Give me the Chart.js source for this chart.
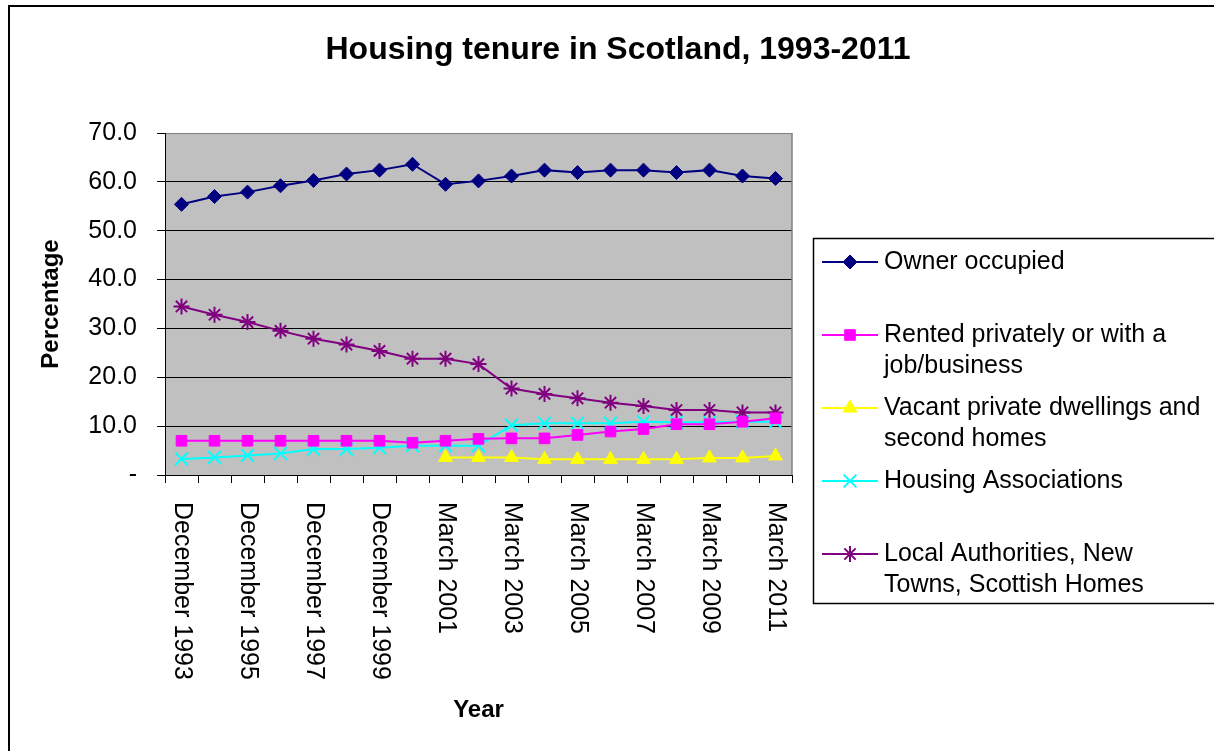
<!DOCTYPE html>
<html>
<head>
<meta charset="utf-8">
<title>Housing tenure in Scotland, 1993-2011</title>
<script src="https://cdn.jsdelivr.net/npm/chart.js@4/dist/chart.umd.min.js"></script>
<style>
  html, body { margin: 0; padding: 0; background: #fff; }
  canvas { display: block; }
</style>
</head>
<body>
<canvas id="tenureChart" width="1214" height="751"></canvas>
<script>
// Categories (only every other one gets a label on the axis)
const categories = [
  'December 1993', 'December 1994', 'December 1995', 'December 1996',
  'December 1997', 'December 1998', 'December 1999', 'December 2000',
  'March 2001', 'March 2002', 'March 2003', 'March 2004', 'March 2005',
  'March 2006', 'March 2007', 'March 2008', 'March 2009', 'March 2010',
  'March 2011'
];

// Percentage of dwellings by tenure
const ownerOccupied = [55.4, 57.0, 57.9, 59.2, 60.3, 61.6, 62.4, 63.6, 59.5, 60.2,
                       61.2, 62.4, 61.9, 62.4, 62.4, 61.9, 62.4, 61.2, 60.7];
const rentedPrivately = [7.0, 7.0, 7.0, 7.0, 7.0, 7.0, 7.0, 6.6, 7.0, 7.4,
                         7.5, 7.5, 8.2, 8.9, 9.4, 10.4, 10.4, 10.9, 11.6];
const vacantSecond = [null, null, null, null, null, null, null, null, 3.6, 3.6,
                      3.6, 3.2, 3.2, 3.2, 3.2, 3.2, 3.5, 3.5, 3.9];
const housingAssoc = [3.3, 3.6, 4.0, 4.4, 5.3, 5.3, 5.6, 6.0, 6.0, 6.0,
                      10.2, 10.6, 10.6, 10.6, 10.9, 10.8, 10.8, 10.9, 10.9];
const localAuth = [34.5, 32.8, 31.3, 29.5, 27.9, 26.7, 25.4, 23.8, 23.8, 22.7,
                   17.7, 16.6, 15.7, 14.8, 14.1, 13.3, 13.3, 12.8, 12.8];

const yTickLabels = ['-', '10.0', '20.0', '30.0', '40.0', '50.0', '60.0', '70.0'];

const seriesNames = [
  ['Owner occupied'],
  ['Rented privately or with a', 'job/business'],
  ['Vacant private dwellings and', 'second homes'],
  ['Housing Associations'],
  ['Local Authorities, New', 'Towns, Scottish Homes']
];

const FONT = "'Liberation Sans', Arial, sans-serif";

// page frame, plot background
const backdrop = {
  id: 'backdrop',
  beforeDraw(chart) {
    const { ctx, chartArea: a } = chart;
    ctx.save();
    ctx.fillStyle = '#fff';
    ctx.fillRect(0, 0, chart.width, chart.height);
    ctx.strokeStyle = '#000';
    ctx.lineWidth = 2;
    ctx.strokeRect(9, 6, 1400, 900);
    ctx.fillStyle = '#c0c0c0';
    ctx.fillRect(a.left, a.top, a.right - a.left, a.bottom - a.top);
    ctx.restore();
  },
  beforeDatasetsDraw(chart) {
    const { ctx, chartArea: a } = chart;
    ctx.save();
    ctx.strokeStyle = '#808080';
    ctx.lineWidth = 1.5;
    ctx.beginPath();
    ctx.moveTo(a.right, a.top);
    ctx.lineTo(a.right, a.bottom);
    ctx.stroke();
    ctx.restore();
  }
};

// title, rotated category labels and the legend box
const decorations = {
  id: 'decorations',
  afterDraw(chart) {
    const { ctx } = chart;
    const xs = chart.scales.x;
    ctx.save();
    ctx.fillStyle = '#000';

    ctx.font = 'bold 32px ' + FONT;
    ctx.textAlign = 'center';
    ctx.textBaseline = 'middle';
    ctx.fillText('Housing tenure in Scotland, 1993-2011', 618, 50);

    // category labels read top to bottom
    ctx.font = '25px ' + FONT;
    ctx.textAlign = 'left';
    categories.forEach((label, i) => {
      if (i % 2) return;
      const x = xs.getPixelForTick(i);
      ctx.save();
      ctx.translate(x, xs.top + 27);
      ctx.rotate(Math.PI / 2);
      ctx.fillText(label, 0, 0);
      ctx.restore();
    });

    // legend
    ctx.strokeStyle = '#000';
    ctx.lineWidth = 1.5;
    ctx.strokeRect(813.5, 238.5, 500, 365);
    chart.data.datasets.forEach((ds, i) => {
      const y = 262 + i * 73;
      ctx.strokeStyle = ds.borderColor;
      ctx.lineWidth = 2;
      ctx.beginPath();
      ctx.moveTo(822, y);
      ctx.lineTo(878, y);
      ctx.stroke();
      ctx.fillStyle = ds.backgroundColor;
      ctx.lineWidth = ds.pointBorderWidth;
      Chart.helpers.drawPoint(ctx, {
        pointStyle: ds.pointStyle,
        radius: ds.pointRadius,
        rotation: 0,
        borderWidth: ds.pointBorderWidth
      }, 850, y);
      ctx.fillStyle = '#000';
      ctx.font = '25px ' + FONT;
      ctx.textAlign = 'left';
      seriesNames[i].forEach((line, j) => ctx.fillText(line, 884, y + j * 31.5));
    });
    ctx.restore();
  }
};

function series(data, color, style, radius, bw) {
  return {
    data,
    borderColor: color,
    backgroundColor: color,
    borderWidth: 2,
    pointStyle: style,
    pointRadius: radius,
    pointHoverRadius: radius,
    pointBorderWidth: bw,
    pointBackgroundColor: color,
    pointBorderColor: color,
    tension: 0,
    spanGaps: false
  };
}

new Chart(document.getElementById('tenureChart'), {
  type: 'line',
  data: {
    labels: categories,
    datasets: [
      series(ownerOccupied, '#000080', 'rectRot', 7, 1),
      series(rentedPrivately, '#ff00ff', 'rect', 7.5, 1),
      series(vacantSecond, '#ffff00', 'triangle', 8, 1),
      series(housingAssoc, '#00ffff', 'crossRot', 9, 2),
      series(localAuth, '#800080', 'star', 8, 2)
    ]
  },
  options: {
    responsive: false,
    animation: false,
    layout: { padding: { left: 0, top: 133, right: 422, bottom: 0 } },
    plugins: {
      legend: { display: false },
      title: { display: false },
      tooltip: { enabled: false }
    },
    scales: {
      x: {
        offset: true,
        grid: { offset: true, drawOnChartArea: false, drawTicks: true, tickLength: 8, color: '#000' },
        border: { color: '#000', width: 1 },
        ticks: { display: false },
        title: {
          display: true,
          text: 'Year',
          color: '#000',
          font: { family: FONT, size: 24, weight: 'bold' },
          padding: { top: 0, bottom: 26 }
        },
        afterFit: s => { s.height = 276; }
      },
      y: {
        min: 0,
        max: 70,
        ticks: {
          stepSize: 10,
          padding: 20,
          color: '#000',
          font: { family: FONT, size: 25 },
          callback: (v, i) => yTickLabels[i]
        },
        grid: {
          color: c => (c.tick && c.tick.value === 70 ? '#808080' : '#000'),
          tickColor: '#000',
          tickLength: 8,
          lineWidth: 1
        },
        border: { color: '#000', width: 1 },
        title: {
          display: true,
          text: 'Percentage',
          color: '#000',
          font: { family: FONT, size: 24, weight: 'bold' },
          padding: { top: 37, bottom: 0 }
        },
        afterFit: s => { s.width = 165; }
      }
    }
  },
  plugins: [backdrop, decorations]
});
</script>
</body>
</html>
